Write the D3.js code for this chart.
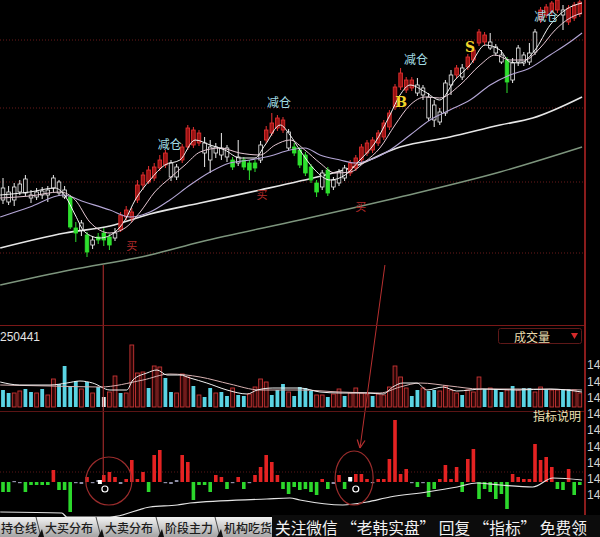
<!DOCTYPE html>
<html><head><meta charset="utf-8">
<script src="https://cdn.jsdelivr.net/npm/d3@7/dist/d3.min.js"></script>
<style>
html,body{margin:0;padding:0;background:#000;overflow:hidden}
svg{display:block}
</style></head><body>
<svg id="chart" width="600" height="537"></svg>
<script>
// ---------------- DATA ----------------
const openP = [14.40,14.38,14.40,14.48,14.47,14.42,14.43,14.45,14.45,14.52,
14.47,14.43,14.43,14.12,14.10,14.05,13.95,14.03,14.07,14.03,
14.02,14.10,14.23,14.22,14.40,14.55,14.58,14.62,14.72,14.75,
14.77,14.63,14.80,14.93,14.95,14.97,14.97,14.93,14.87,14.85,
14.92,14.80,14.77,14.80,14.77,14.77,14.80,15.00,15.07,15.12,
15.10,15.08,14.93,14.90,14.85,14.73,14.57,14.53,14.70,14.53,
14.57,14.62,14.67,14.72,14.80,14.87,14.90,14.97,15.03,15.13,
15.33,15.53,15.50,15.52,15.55,15.52,15.43,15.35,15.18,15.27,
15.55,15.65,15.72,15.73,15.80,15.97,15.98,15.98,15.93,15.85,
15.80,15.60,15.78,15.85,15.78,15.88,16.20,16.25,16.28,16.30,
16.30,16.18,16.22,16.26];
const closeP = [14.52,14.48,14.53,14.56,14.61,14.45,14.48,14.49,14.50,14.62,
14.58,14.50,14.13,14.07,14.17,13.88,14.00,14.00,14.00,13.95,
14.07,14.25,14.30,14.28,14.55,14.65,14.70,14.73,14.80,14.87,
14.63,14.73,14.93,15.12,15.10,15.07,14.87,14.80,14.93,14.92,
14.83,14.73,14.83,14.73,14.70,14.72,14.95,15.10,15.17,15.22,
15.20,14.92,14.87,14.75,14.67,14.60,14.48,14.67,14.47,14.60,
14.68,14.72,14.77,14.82,14.93,14.97,15.00,15.07,15.17,15.27,
15.53,15.67,15.60,15.60,15.47,15.45,15.22,15.20,15.28,15.57,
15.65,15.72,15.63,15.83,15.90,16.08,16.05,15.92,15.87,15.78,
15.58,15.77,15.92,15.77,15.87,16.08,16.30,16.33,16.37,16.40,
16.25,16.32,16.35,16.38];
const highP = [14.62,14.54,14.57,14.60,14.65,14.50,14.52,14.53,14.54,14.65,
14.60,14.54,14.45,14.18,14.20,14.08,14.04,14.07,14.12,14.06,
14.12,14.28,14.34,14.32,14.60,14.68,14.74,14.77,14.85,14.90,
14.80,14.76,14.96,15.15,15.13,15.10,15.03,15.00,14.97,15.07,
14.95,14.83,15.00,14.83,14.80,14.80,14.99,15.14,15.27,15.25,
15.23,15.11,14.97,14.93,14.88,14.76,14.60,14.70,14.73,14.63,
14.71,14.75,14.80,14.85,14.96,15.00,15.03,15.10,15.20,15.30,
15.56,15.72,15.63,15.63,15.62,15.55,15.47,15.40,15.32,15.60,
15.70,15.75,15.76,15.86,15.93,16.11,16.08,16.07,15.96,15.90,
15.83,15.82,15.95,15.88,15.97,16.11,16.33,16.36,16.39,16.42,
16.35,16.35,16.38,16.40];
const lowP = [14.36,14.35,14.34,14.45,14.44,14.37,14.40,14.41,14.38,14.48,
14.44,14.41,14.11,13.98,14.04,13.83,13.91,13.96,13.94,13.90,
13.99,14.08,14.20,14.18,14.37,14.50,14.56,14.59,14.69,14.72,
14.59,14.60,14.77,14.90,14.92,14.94,14.73,14.67,14.82,14.80,
14.78,14.70,14.74,14.70,14.60,14.68,14.77,14.97,15.04,15.09,
15.07,14.90,14.84,14.72,14.64,14.57,14.43,14.50,14.44,14.50,
14.54,14.59,14.64,14.69,14.77,14.84,14.87,14.94,15.00,15.10,
15.30,15.50,15.47,15.49,15.44,15.40,15.19,15.13,15.15,15.24,
15.45,15.62,15.60,15.70,15.77,15.94,15.95,15.90,15.84,15.76,
15.47,15.57,15.74,15.74,15.75,15.85,16.17,16.22,16.25,16.27,
16.10,16.15,16.19,16.23];
// candle colouring of the indicator: r = red, g = green, w = white
const candleTone = ("wwwwwwwwwwww"+"ggwgwggg"+"wrrrrrrrrr"+"ww"+"rrrr"+"wwwww"+"gwggg"+"w"+"rrrr"+"w"+"ggggg"+"wgwww"+"rrrrrrrrrrrr"+"wwwwwww"+"rwrrrr"+"www"+"g"+"wwwww"+"rrrr"+"w"+"rrr").split("");

const volume = [17,14,14,16,18,15,14,18,12,28,23,41,21,26,18,25,14,20,10,15,
31,14,14,62,34,35,19,41,40,29,15,14,33,30,21,12,10,19,14,15,
11,19,12,11,13,20,28,25,12,17,23,15,11,20,19,16,12,12,10,13,
18,11,14,19,14,13,11,13,12,20,41,30,19,11,17,19,16,17,16,21,
17,14,12,17,15,30,18,19,18,15,17,21,17,19,19,15,20,18,17,17,
18,18,17,14];
const volumeTone = ("ccrrccrcrr"+"ccccrcrcwr"+"rcrrrrcrrc"+"crrrcrccrc"+"crccrrrrcc"+"crccccrrcr"+"rcrrrrcrrr"+"rrrccrccrr"+"rrcrrrcrcc"+"rcrccrrcrr"+"ccrr").split("");

const indicator = [-10,-10,1,0,-10,-3,-3,-3,-3,12,
-8,-8,-30,0,-2,5,0,2,7,10,
5,-2,3,22,3,10,-10,27,32,0,
-2,2,27,20,-18,-3,-3,-10,7,5,
-7,0,5,-7,0,7,15,27,20,7,
-7,-12,-5,-8,-7,-10,-13,3,-7,-2,
7,-7,2,8,8,3,0,3,3,23,
62,8,13,0,-5,0,-15,-7,3,17,
3,15,-10,23,33,-17,-7,-10,-17,-12,
-27,8,5,3,3,38,22,25,15,-7,
-8,13,-13,-3];

// moving-average curves as [bar index, value]
const ma5Pts = [[-0.5,14.45],[4.8,14.48],[9.3,14.52],[11.1,14.44],[12.9,14.25],[14.6,14.08],[17.3,14.02],[20,14.08],[21.8,14.20],[23.6,14.40],[26.25,14.60],[28.9,14.75],[31.6,14.80],[34.3,15.00],[37,14.95],[39.6,14.90],[42.3,14.82],[45,14.82],[46.8,14.95],[49.5,15.15],[51.25,15.05],[53,14.90],[55.7,14.70],[58.4,14.60],[61.1,14.65],[63.75,14.80],[66.4,14.97],[69.1,15.25],[70.9,15.45],[72.7,15.55],[75.4,15.48],[78,15.40],[80.7,15.60],[83.4,15.75],[86.1,15.95],[88.75,15.90],[90.5,15.78],[92.3,15.77],[95,15.90],[97.7,16.15],[100.4,16.30],[103.4,16.37]];
const ma10Pts = [[-0.5,14.42],[4.8,14.44],[10.2,14.48],[12.9,14.40],[15.5,14.18],[19.1,14.07],[21.8,14.12],[24.5,14.28],[27.1,14.48],[29.8,14.62],[32.5,14.75],[35.2,14.88],[38.75,14.92],[42.3,14.87],[45.9,14.85],[48.6,14.95],[51.25,15.00],[53.9,14.90],[56.6,14.77],[59.3,14.67],[62,14.68],[64.6,14.78],[67.3,14.92],[70,15.15],[72.7,15.35],[75.4,15.43],[78,15.42],[81.6,15.55],[85.2,15.75],[87.9,15.85],[90.5,15.80],[93.2,15.80],[95.9,15.92],[98.6,16.10],[101.25,16.22],[103.4,16.27]];
const ma20Pts = [[-0.5,14.23],[4.8,14.33],[10.7,14.45],[14.6,14.38],[19.1,14.30],[22.7,14.23],[26.25,14.28],[29.8,14.40],[33.4,14.55],[37,14.68],[40.5,14.77],[44.1,14.80],[47.7,14.84],[51.25,14.90],[53.9,14.92],[56.6,14.85],[60.2,14.80],[62.9,14.77],[65.5,14.80],[69.1,14.90],[72.7,15.05],[76.25,15.20],[79.8,15.30],[83.4,15.40],[87,15.55],[90.5,15.65],[94.1,15.72],[97.7,15.85],[101.25,15.98],[103.4,16.07]];
const ma60Pts = [[-0.5,13.92],[11.1,14.07],[19.1,14.14],[26.25,14.26],[35.2,14.37],[45.9,14.50],[53,14.59],[62,14.72],[70.9,14.93],[79.8,15.03],[88.75,15.15],[94.6,15.22],[103.4,15.43]];
const ma120Pts = [[-0.5,13.55],[12,13.70],[26.25,13.85],[35.2,13.98],[53,14.20],[70.9,14.43],[88.75,14.68],[103.4,14.93]];

const volMa5Pts = [[-0.5,25],[3,22],[8.4,22],[11.4,24],[13.75,26],[16,24],[19.1,17],[22.1,17],[23.2,27],[25.7,34],[27.5,37],[29.3,32],[31.6,32],[33.4,29],[36.4,24],[40,17],[43.6,13],[45.4,17],[48.2,19],[51.25,19],[53,19],[56.6,15],[60.2,14],[65,14],[67.9,13],[69.6,20],[71.4,24],[73.9,24],[75.7,17],[78.6,20],[81,16],[85.7,18],[91.8,17],[97.7,18],[103.4,15]];
const volMa10Pts = [[-0.5,22],[8.4,21],[17.3,20],[25,27],[29.8,33],[35.2,30],[40.5,23],[45.9,17],[53,17],[60.2,15],[67.3,14],[70.9,20],[74.5,24],[79.8,21],[85.2,18],[92.3,18],[103.4,17]];
const indLinePts = [[-0.5,-30],[10.5,-31],[11.4,-35],[19.1,-35],[26.25,-25],[31.1,-23],[33.4,-21],[47.1,-17],[51.25,-16],[53,-18],[60.7,-23],[65,-20],[69.1,-15],[75.7,-10],[81.1,-5],[84.6,-1],[88.75,-3],[94.6,-5],[98.2,4],[103.4,2]];

const gridPrices = [16.00, 15.32, 14.58, 13.87];
const axisTicks = [14.90,14.80,14.70,14.60,14.50,14.40,14.30,14.20,14.10];

const reduceIdx = [29.8, 49.3, 73.75, 97];
const reducePrice = [14.97, 15.39, 15.82, 16.25];
const buyIdx = [23, 46.25, 63.9];
const buyPrice = [13.95, 14.46, 14.34];
const bsLabels = ["B", "S"];
const bsIdx = [71.1, 83.4];
const bsPrice = [15.38, 15.93];

const signalSquareIdx = [17.3, 62];
const signalSquareVal = [0, 3];
const signalRingIdx = [18.2, 63];
const signalRingVal = [-7, -7];

const tabLabels = ["持仓线", "大买分布", "大卖分布", "阶段主力", "机构吃货"];
const volumeLabel = "250441";
const volumeButton = "成交量";
const explainLabel = "指标说明";
const promoText = "关注微信 “老韩实盘” 回复 “指标” 免费领";

// ---------------- DRAW ----------------
const CJK = "'Noto Sans CJK SC','Noto Sans',sans-serif";
const svg = d3.select("#chart");
svg.append("rect").attr("width", 600).attr("height", 537).attr("fill", "#000");

const x = d3.scaleLinear().domain([0, 103]).range([3, 579.8]);
const yP = d3.scaleLinear().domain([16.40, 13.16]).range([0, 324]);
const yV = d3.scaleLinear().domain([0, 62]).range([407, 345]);
const yI = d3.scaleLinear().domain([0, 62]).range([482, 420]);
const yAx = d3.scaleLinear().domain([14.10, 14.90]).range([495, 365]);

const defs = svg.append("defs");
function clip(id, y0, h) {
  defs.append("clipPath").attr("id", id).append("rect").attr("x", 0).attr("y", y0).attr("width", 584).attr("height", h);
}
clip("cMain", 0, 324); clip("cVol", 326, 84); clip("cInd", 412, 105);
const grad = defs.append("linearGradient").attr("id", "tabg").attr("x1", 0).attr("y1", 0).attr("x2", 0).attr("y2", 1);
grad.append("stop").attr("offset", "0%").attr("stop-color", "#f2f2f2");
grad.append("stop").attr("offset", "100%").attr("stop-color", "#a4a4a4");

// ---- main panel
const gMain = svg.append("g").attr("clip-path", "url(#cMain)");
gMain.selectAll("line.grid").data(gridPrices).join("line")
  .attr("x1", 0).attr("x2", 584).attr("y1", d => yP(d)).attr("y2", d => yP(d))
  .attr("stroke", "#6a1a1a").attr("stroke-dasharray", "1,2");

const lineP = d3.line().x(d => x(d[0])).y(d => yP(d[1])).curve(d3.curveMonotoneX);
const maDefs = [
  [ma120Pts, "#7d957d", 1.4],
  [ma60Pts, "#e6e6e6", 1.6],
  [ma20Pts, "#b4a6d6", 1.1],
  [ma10Pts, "#e6c8d4", 1],
  [ma5Pts, "#f4f4f4", 1]
];

const candles = d3.range(openP.length).map(i => ({
  i, o: openP[i], c: closeP[i], h: highP[i], l: lowP[i], t: candleTone[i]
}));
const stroke = { r: "#e83232", g: "#2ee02e", w: "#ececec" };
const fill = { r: "#9a1212", g: "#2ee02e", w: "#050505" };

maDefs.slice(0, 2).forEach(([pts, col, w]) => {
  gMain.append("path").attr("d", lineP(pts)).attr("fill", "none").attr("stroke", col).attr("stroke-width", w);
});

const cg = gMain.append("g");
cg.selectAll("line.wick").data(candles).join("line")
  .attr("x1", d => x(d.i)).attr("x2", d => x(d.i))
  .attr("y1", d => yP(d.h)).attr("y2", d => yP(d.l))
  .attr("stroke", d => stroke[d.t]).attr("stroke-width", 1);
cg.selectAll("rect.body").data(candles).join("rect")
  .attr("x", d => x(d.i) - 1.8).attr("width", 3.6)
  .attr("y", d => yP(Math.max(d.o, d.c)))
  .attr("height", d => Math.max(1, Math.abs(yP(d.o) - yP(d.c))))
  .attr("fill", d => fill[d.t]).attr("stroke", d => stroke[d.t]).attr("stroke-width", 0.8);

maDefs.slice(2).forEach(([pts, col, w]) => {
  gMain.append("path").attr("d", lineP(pts)).attr("fill", "none").attr("stroke", col).attr("stroke-width", w);
});

gMain.selectAll("text.reduce").data(reduceIdx).join("text")
  .attr("x", (d) => x(d)).attr("y", (d, k) => yP(reducePrice[k]))
  .attr("text-anchor", "middle").attr("dominant-baseline", "central")
  .attr("font-family", CJK).attr("font-size", 12).attr("fill", "#a2dde4").text("减仓");
gMain.selectAll("text.buy").data(buyIdx).join("text")
  .attr("x", d => x(d)).attr("y", (d, k) => yP(buyPrice[k]))
  .attr("text-anchor", "middle").attr("dominant-baseline", "central")
  .attr("font-family", CJK).attr("font-size", 11).attr("fill", "#b02a2a").text("买");
gMain.selectAll("text.bs").data(bsLabels).join("text")
  .attr("x", (d, k) => x(bsIdx[k])).attr("y", (d, k) => yP(bsPrice[k]))
  .attr("text-anchor", "middle").attr("dominant-baseline", "central")
  .attr("font-family", "'DejaVu Serif','Liberation Serif',serif").attr("font-weight", "bold")
  .attr("font-size", 14).attr("fill", "#f2d42a").text(d => d);

// ---- volume panel
const gVol = svg.append("g").attr("clip-path", "url(#cVol)");
const vols = volume.map((v, i) => ({ i, v, t: volumeTone[i] }));
gVol.selectAll("rect").data(vols).join("rect")
  .attr("x", d => x(d.i) - 1.9).attr("width", 3.8)
  .attr("y", d => yV(d.v)).attr("height", d => yV(0) - yV(d.v))
  .attr("fill", d => d.t === "r" ? "#2a0606" : (d.t === "w" ? "#e6f4f4" : "#5ad4e4"))
  .attr("stroke", d => d.t === "r" ? "#c83434" : "none").attr("stroke-width", 0.9);
const lineV = d3.line().x(d => x(d[0])).y(d => yV(d[1])).curve(d3.curveMonotoneX);
gVol.append("path").attr("d", lineV(volMa10Pts)).attr("fill", "none").attr("stroke", "#d8b2b2").attr("stroke-width", 1);
gVol.append("path").attr("d", lineV(volMa5Pts)).attr("fill", "none").attr("stroke", "#efefef").attr("stroke-width", 1);

// ---- indicator panel
const gInd = svg.append("g").attr("clip-path", "url(#cInd)");
gInd.append("line").attr("x1", 0).attr("x2", 584).attr("y1", yI(10)).attr("y2", yI(10))
  .attr("stroke", "#5a1616").attr("stroke-dasharray", "1,2");
const inds = indicator.map((v, i) => ({ i, v }));
gInd.selectAll("rect").data(inds).join("rect")
  .attr("x", d => x(d.i) - 1.8).attr("width", 3.6)
  .attr("y", d => d.v > 0 ? yI(d.v) : yI(0))
  .attr("height", d => Math.max(1.2, Math.abs(yI(d.v) - yI(0))))
  .attr("fill", d => d.v > 2 ? "#e42222" : (d.v < -2 ? "#2cd82c" : "#8e8ea6"));
const lineI = d3.line().x(d => x(d[0])).y(d => yI(d[1])).curve(d3.curveMonotoneX);
gInd.append("path").attr("d", lineI(indLinePts)).attr("fill", "none").attr("stroke", "#e4e4e4").attr("stroke-width", 1.2);
gInd.selectAll("rect.sq").data(signalSquareIdx).join("rect").attr("class", "sq")
  .attr("x", d => x(d) - 2).attr("y", (d, k) => yI(signalSquareVal[k]) - 2)
  .attr("width", 4).attr("height", 4).attr("fill", "#fff");
gInd.selectAll("circle.ring").data(signalRingIdx).join("circle")
  .attr("cx", d => x(d)).attr("cy", (d, k) => yI(signalRingVal[k])).attr("r", 3)
  .attr("fill", "none").attr("stroke", "#fff").attr("stroke-width", 1.2);

// ---- annotation arrows & circles
const ann = svg.append("g").attr("stroke", "#b83030").attr("fill", "none");
ann.append("line").attr("x1", x(17.9)).attr("x2", x(17.9)).attr("y1", yP(13.75)).attr("y2", yI(5)).attr("stroke-width", 1);
const a0 = [x(68.2), yP(13.75)], a1 = [x(63.75), yI(34)];
ann.append("line").attr("x1", a0[0]).attr("y1", a0[1]).attr("x2", a1[0]).attr("y2", a1[1]).attr("stroke-width", 1);
const ang = Math.atan2(a1[1] - a0[1], a1[0] - a0[0]);
[0.45, -0.45].forEach(da => {
  ann.append("line").attr("x1", a1[0]).attr("y1", a1[1])
    .attr("x2", a1[0] - 9 * Math.cos(ang + da)).attr("y2", a1[1] - 9 * Math.sin(ang + da)).attr("stroke-width", 1.2);
});
ann.append("ellipse").attr("cx", x(18.9)).attr("cy", yI(1)).attr("rx", 23).attr("ry", 24).attr("stroke", "#9a2c2c").attr("stroke-width", 1.2);
ann.append("ellipse").attr("cx", x(62.7)).attr("cy", yI(4)).attr("rx", 19).attr("ry", 27).attr("stroke", "#9a2c2c").attr("stroke-width", 1.2);

// ---- frame lines
svg.append("line").attr("x1", 0).attr("x2", 586).attr("y1", 325.5).attr("y2", 325.5).attr("stroke", "#7a1818");
svg.append("line").attr("x1", 0).attr("x2", 586).attr("y1", 411.5).attr("y2", 411.5).attr("stroke", "#5a1414");
svg.append("line").attr("x1", 585).attr("x2", 585).attr("y1", 0).attr("y2", 517).attr("stroke", "#8a1c1c").attr("stroke-width", 2);

// ---- labels of the panels
svg.append("text").attr("x", 0).attr("y", 341).attr("font-family", "'Liberation Sans',Arial,sans-serif")
  .attr("font-size", 12).attr("fill", "#e4e4e4").text(volumeLabel);
svg.append("rect").attr("x", 498.5).attr("y", 328.5).attr("width", 83).attr("height", 15).attr("rx", 2)
  .attr("fill", "#000").attr("stroke", "#5e1818");
svg.append("text").attr("x", 532).attr("y", 336).attr("text-anchor", "middle").attr("dominant-baseline", "central")
  .attr("font-family", CJK).attr("font-size", 12).attr("fill", "#e8dcae").text(volumeButton);
svg.append("path").attr("d", "M571,333 L578,333 L574.5,339 Z").attr("fill", "#d42a2a");
svg.append("text").attr("x", 581).attr("y", 415).attr("text-anchor", "end").attr("dominant-baseline", "central")
  .attr("font-family", CJK).attr("font-size", 12).attr("fill", "#eee2b4").text(explainLabel);

// ---- right price axis (only the leading digits fit in the window)
const axG = svg.append("g").attr("transform", "translate(586,0)")
  .call(d3.axisRight(yAx).tickValues(axisTicks).tickSize(0).tickPadding(1)
    .tickFormat(d => String(Math.floor(d))));
axG.select(".domain").remove();
axG.selectAll("text").attr("fill", "#d4d4d4").attr("font-size", 12).attr("font-family", "'Liberation Sans',Arial,sans-serif");

// ---- bottom tab bar
svg.append("rect").attr("x", 0).attr("y", 517).attr("width", 272).attr("height", 20).attr("fill", "url(#tabg)");
const tabX = [1, 45, 105, 165, 224];
const tabG = svg.append("g");
tabLabels.forEach((t, k) => {
  tabG.append("text").attr("x", tabX[k]).attr("y", 527.5).attr("dominant-baseline", "central")
    .attr("font-family", CJK).attr("font-size", 12).attr("font-weight", 500).attr("fill", "#1c1c1c").text(t);
  if (k > 0) {
    const sx = tabX[k] - 6;
    tabG.append("path").attr("d", `M${sx - 3},517 L${sx + 2},537`).attr("stroke", "#4a4a4a").attr("fill", "none");
    tabG.append("path").attr("d", `M${sx - 1},537 L${sx + 3},529 L${sx + 5},537 Z`).attr("fill", "#111");
  }
});
svg.append("rect").attr("x", 272).attr("y", 515).attr("width", 328).attr("height", 22).attr("fill", "#0c0c0c");
const promo = svg.append("text").attr("x", 275).attr("y", 527).attr("dominant-baseline", "central")
  .attr("font-family", CJK).attr("font-size", 16).attr("fill", "#f2f2f2").text(promoText);
const natural = promo.node().getComputedTextLength();
promo.attr("font-size", Math.min(17, 16 * 312 / natural));
</script>
</body></html>
